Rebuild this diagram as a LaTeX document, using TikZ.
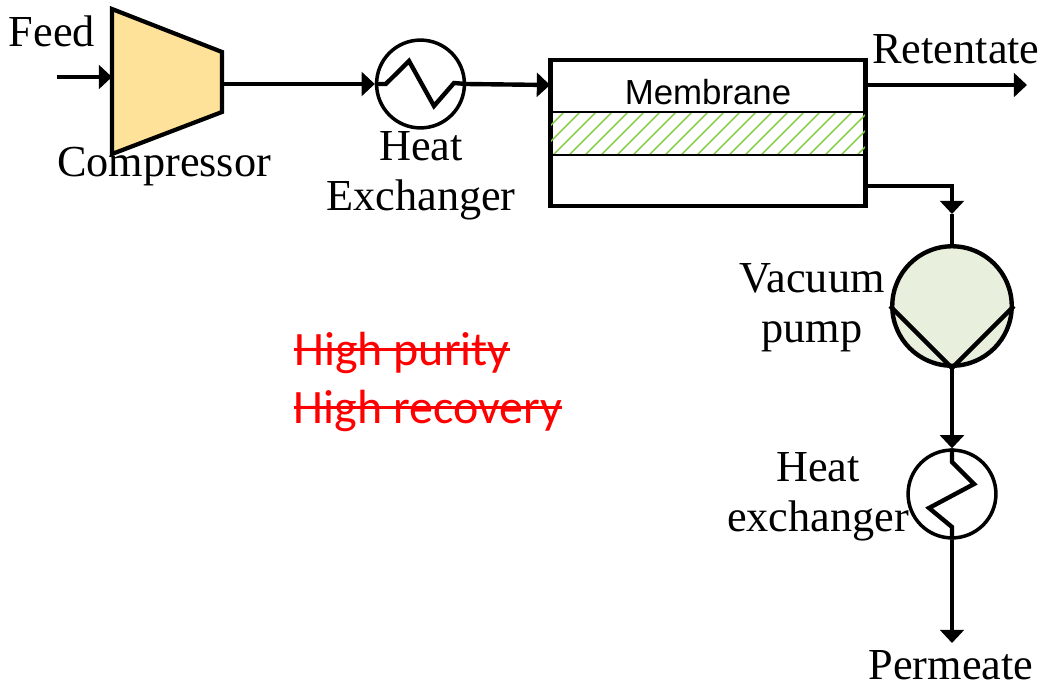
\documentclass[tikz,border=0pt]{standalone}
\usepackage{fontspec}
\setmainfont{Liberation Serif}
\newfontfamily\labelsans{Liberation Sans}
\newfontfamily\notesans{Carlito}
\usetikzlibrary{arrows.meta}
\definecolor{compfill}{HTML}{FFE299}
\definecolor{pumpfill}{HTML}{E9EFDD}
\definecolor{hatchgreen}{HTML}{84CC3C}
\tikzset{
  unit/.style={draw, line width=2.4pt},
  pipe/.style={line width=2.5pt},
  flow/.style={pipe, -{Triangle[length=7.5pt,width=13.5pt]}},
  hx/.style={circle, draw, line width=2pt, minimum size=50pt, inner sep=0pt},
  lbl/.style={font=\fontsize{25.2}{28.5}\selectfont, align=center, inner sep=0pt},
  note/.style={font=\notesans\fontsize{27.3}{30}\selectfont, text=red, inner sep=0pt}
}
\begin{document}
\begin{tikzpicture}[x=0.02cm, y=-0.02cm]
  \useasboundingbox (0,0) rectangle (1048,683);

  % compressor
  \coordinate (CompIn) at (112,77);
  \coordinate (CompOut) at (222,84);
  \filldraw[unit, fill=compfill, line join=miter] (112,9) -- (222,52) -- (222,112) -- (112,154) -- cycle;

  % membrane
  \node[draw, line width=2.4pt, minimum width=179.2pt, minimum height=82.8pt, inner sep=0pt] (Membrane) at (708,133) {};
  \coordinate (MemIn) at (550,85);
  \coordinate (MemRet) at (866,85);
  \coordinate (MemPerm) at (866,186);
  \begin{scope}
    \clip (551,112) rectangle (865,155);
    \foreach \i in {0,...,22}
      \draw[hatchgreen, line width=0.8pt] ({500+16*\i},160) -- ({550+16*\i},110);
  \end{scope}
  \draw[line width=0.8pt] (550,112) -- (866,112);
  \draw[line width=0.8pt] (550,155) -- (866,155);
  \node[font=\labelsans\fontsize{19.8}{22}\selectfont, inner sep=0pt] (MemLabel) at (708,92) {Membrane};

  % exchangers
  \node[hx] (HxOne) at (420.5,84) {};
  \draw[pipe, line join=miter] (HxOne.west) -- ++(11,0) -- (409,61) -- (434,106) -- (454,83) -- (HxOne.east);
  \node[hx] (HxTwo) at (952,494) {};
  \draw[pipe, line join=miter] (HxTwo.north) -- (952,462) -- (974,484) -- (929,508) -- (952,527) -- (HxTwo.south);

  % pump
  \node[circle, draw, fill=pumpfill, line width=2.5pt, minimum size=68pt, inner sep=0pt] (Pump) at (952,306) {};
  \draw[pipe, line join=round] (Pump.west) -- (Pump.south) -- (Pump.east);

  % streams
  \coordinate (FeedIn) at (57,77);
  \coordinate (RetOut) at (1027,85);
  \coordinate (PermOut) at (952,643);
  \coordinate (PermTip) at (952,214);
  \draw[flow] (FeedIn) -- (CompIn);
  \draw[flow] (CompOut) -- (HxOne.west);
  \draw[flow] (HxOne.east) -- (MemIn);
  \draw[flow] (MemRet) -- (RetOut);
  \draw[flow] (MemPerm) -| (PermTip);
  \draw[pipe] (PermTip) -- (Pump.north);
  \draw[flow] (Pump.south) -- (HxTwo.north);
  \draw[flow] (HxTwo.south) -- (PermOut);

  % labels
  \node[lbl] (FeedLabel) at (52,31) {Feed};
  \node[lbl] (CompLabel) at (164,167) {Compressor};
  \node[lbl] (HxOneLabel) at (421,176) {Heat\\Exchanger};
  \node[lbl] (RetLabel) at (956,49) {Retentate};
  \node[lbl] (PumpLabel) at (812,308) {Vacuum\\pump};
  \node[lbl] (HxTwoLabel) at (818,497) {Heat\\exchanger};
  \node[lbl] (PermLabel) at (951,665) {Permeate};

  \node[note] (Purity) at (402,353) {High purity};
  \node[note] (Recovery) at (428,411) {High recovery};
  \draw[red, line width=1.5pt] ([yshift=2pt]Purity.west) -- ([yshift=2pt]Purity.east);
  \draw[red, line width=1.5pt] ([yshift=2pt]Recovery.west) -- ([yshift=2pt]Recovery.east);
\end{tikzpicture}
\end{document}
